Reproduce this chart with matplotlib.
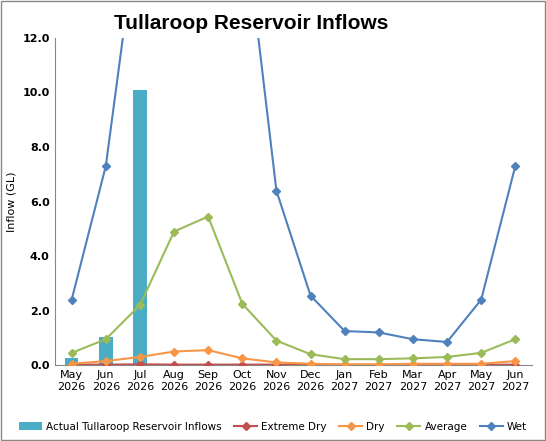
import matplotlib.pyplot as plt
import numpy as np

months = ["May\n2026","Jun\n2026","Jul\n2026","Aug\n2026","Sep\n2026","Oct\n2026","Nov\n2026","Dec\n2026",
          "Jan\n2027","Feb\n2027","Mar\n2027","Apr\n2027","May\n2027","Jun\n2027"]
actual = [0.25, 1.05, 10.1]
extreme_dry = [0.02,0.02,0.03,0.02,0.02,0.02,0.02,0.01,0.01,0.01,0.01,0.01,0.01,0.02]
dry = [0.05,0.15,0.3,0.5,0.55,0.25,0.1,0.05,0.03,0.03,0.05,0.05,0.05,0.15]
average = [0.45,0.95,2.2,4.9,5.45,2.25,0.9,0.4,0.22,0.22,0.25,0.3,0.45,0.95]
wet = [2.4,7.3,16.7,20,20,17,6.4,2.55,1.25,1.2,0.95,0.85,2.4,7.3]

fig = plt.figure(figsize=(5.46,4.41), dpi=100)
ax = fig.add_axes([0.1, 0.172, 0.875, 0.742])
x = np.arange(len(months))
hb = ax.bar(x[:len(actual)], actual, width=0.4, color="#4BACC6", label="Actual Tullaroop Reservoir Inflows", zorder=2)
h1, = ax.plot(x, extreme_dry, color="#C0504D", marker="D", ms=4, lw=1.5, label="Extreme Dry", zorder=3)
h2, = ax.plot(x, dry, color="#F79646", marker="D", ms=4, lw=1.5, label="Dry", zorder=3)
h3, = ax.plot(x, average, color="#9BBB59", marker="D", ms=4, lw=1.5, label="Average", zorder=3)
h4, = ax.plot(x, wet, color="#4F81BD", marker="D", ms=4, lw=1.5, label="Wet", zorder=3)
ax.set_ylim(0, 12)
ax.set_xlim(-0.5, len(months)-0.5)
ax.set_yticks(np.arange(0, 12.1, 2))
ax.set_yticklabels([f"{v:.1f}" for v in np.arange(0, 12.1, 2)], fontweight="bold", fontsize=8)
ax.set_xticks(x)
ax.set_xticklabels(months, fontsize=8)
ax.tick_params(length=0)
ax.set_ylabel("Inflow (GL)", fontsize=8)
for s in ["top","right"]:
    ax.spines[s].set_visible(False)
ax.spines["left"].set_color("#888888")
ax.spines["bottom"].set_color("#888888")
fig.text(0.46, 0.935, "Tullaroop Reservoir Inflows", ha="center", fontsize=15, fontweight="bold",
         family="Liberation Sans")
fig.legend([hb, h1, h2, h3, h4], [hb.get_label(), h1.get_label(), h2.get_label(), h3.get_label(), h4.get_label()],
           loc="lower center", ncol=5, fontsize=7.5, frameon=False, bbox_to_anchor=(0.5, 0.0),
           handlelength=2.2, columnspacing=1.2, handletextpad=0.4)
fig.patches.append(plt.Rectangle((0.002,0.002),0.996,0.996, transform=fig.transFigure, fill=False, ec="#888888", lw=1))
fig.savefig("out.png", dpi=100)
